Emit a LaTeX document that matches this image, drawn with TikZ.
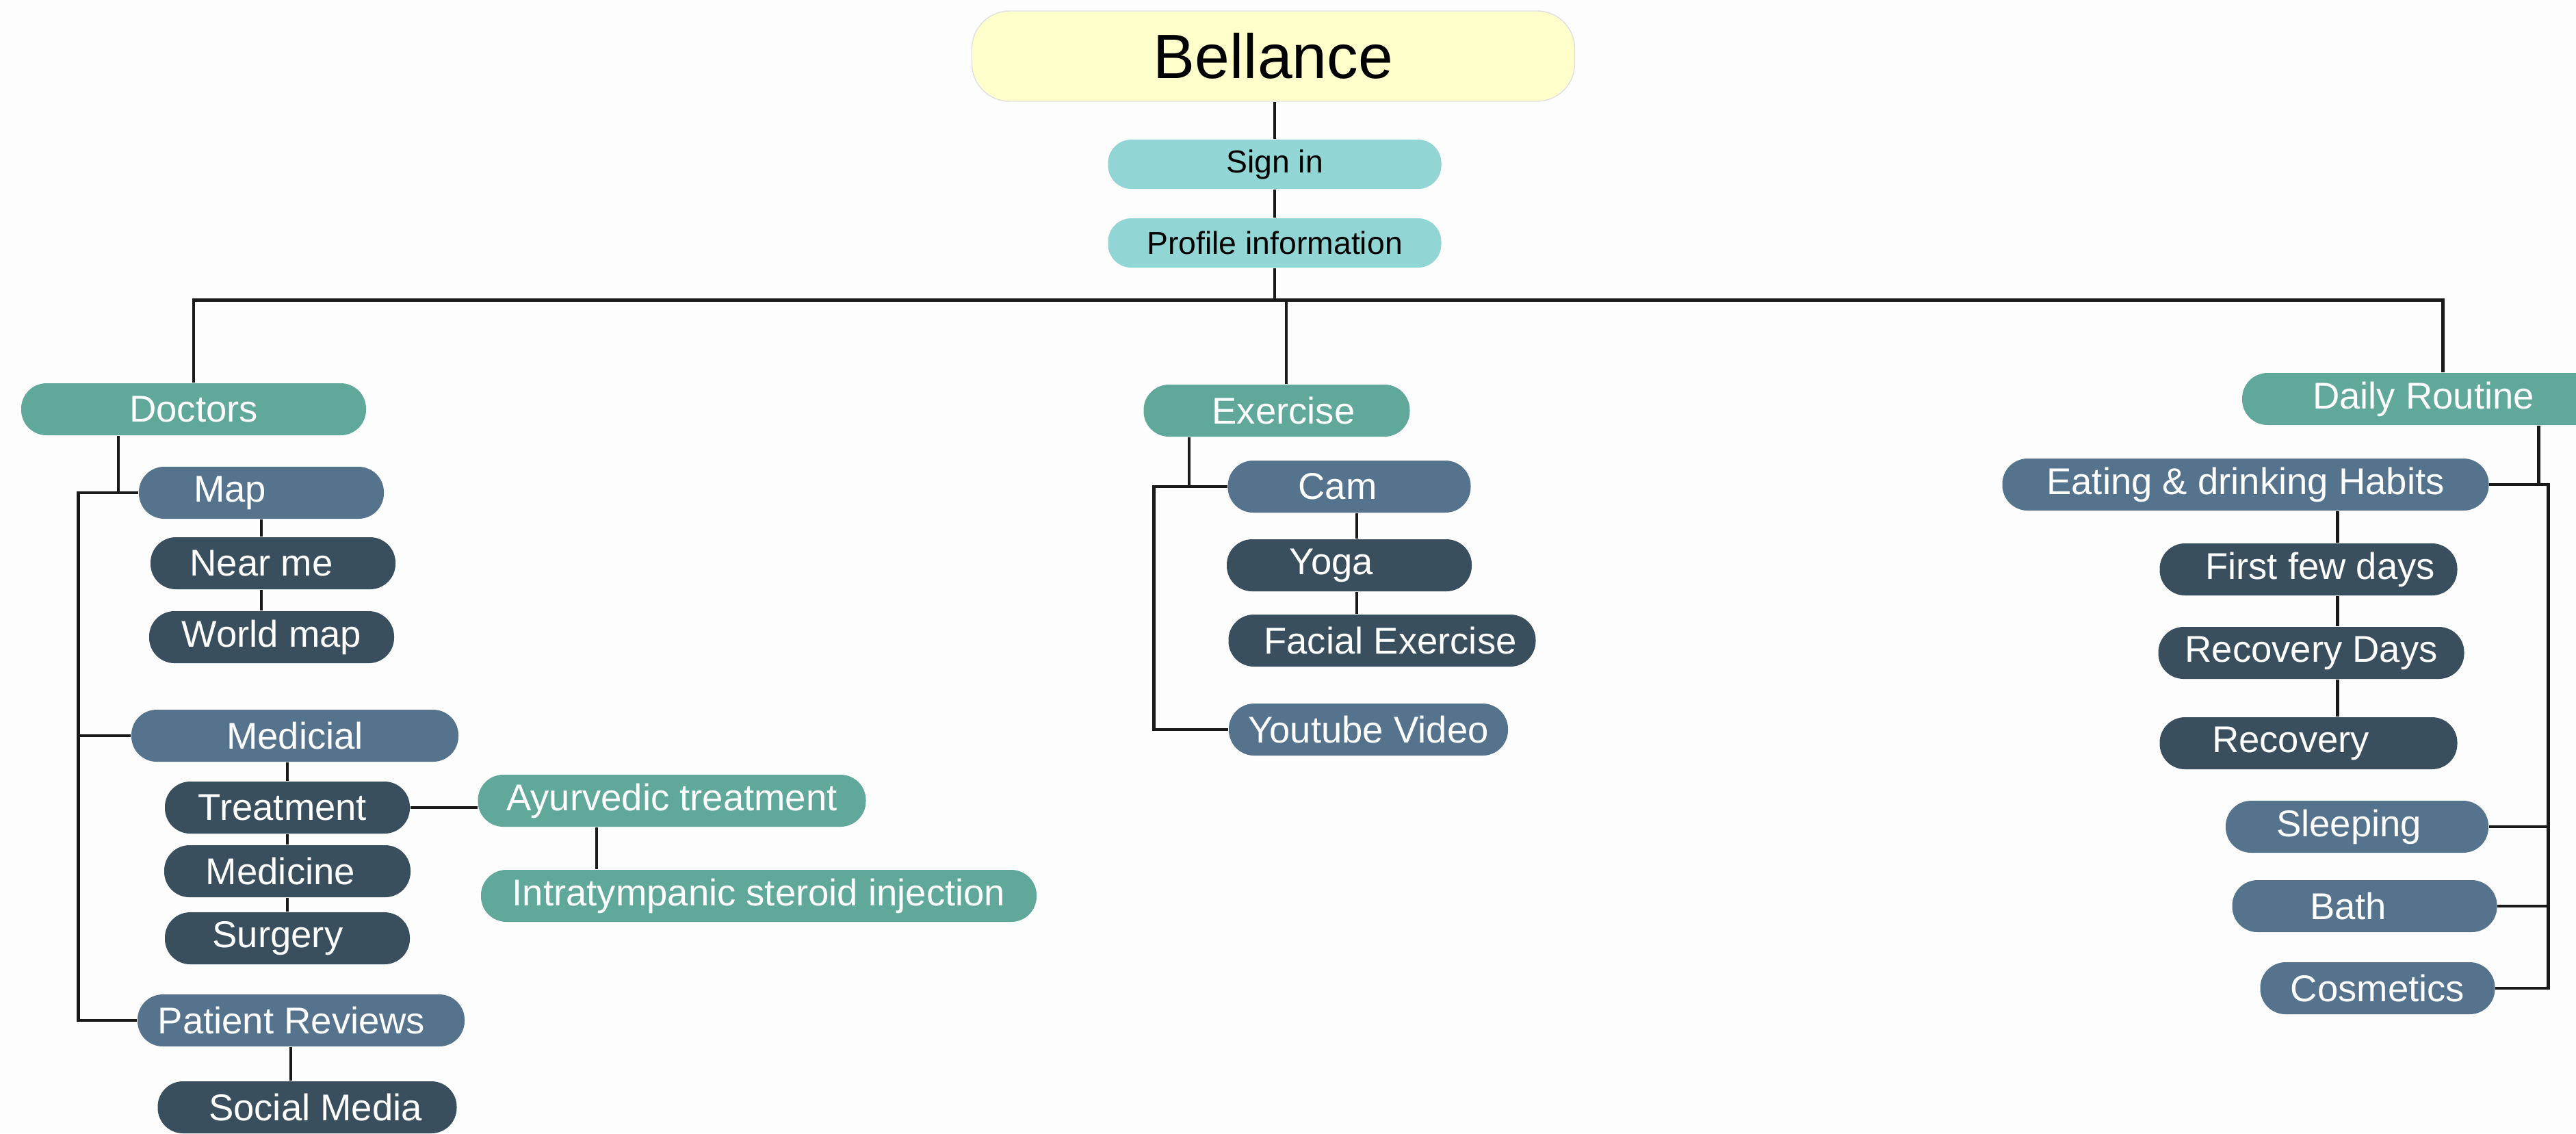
\documentclass[tikz,border=0pt]{standalone}
\usepackage{fontspec}
\setmainfont{Liberation Sans}
\definecolor{cream}{HTML}{FFFFCC}
\definecolor{aqua}{HTML}{92D5D5}
\definecolor{sea}{HTML}{60A899}
\definecolor{slate}{HTML}{56738D}
\definecolor{navy}{HTML}{3A4F5D}
\definecolor{paper}{HTML}{FDFDFD}
% text set off the middle of its pill
\newcommand{\nudge}[2]{\hspace*{#1}#2\hspace*{-#1}}

\begin{document}
\begin{tikzpicture}[
  pill/.style={rounded corners=0.37cm, minimum height=0.76cm, inner sep=0pt,
               text=white, font=\fontsize{15.5}{18}\selectfont},
  cat/.style={pill, fill=sea},
  sub/.style={pill, fill=slate},
  leaf/.style={pill, fill=navy},
  login/.style={pill, fill=aqua, text=black, rounded corners=0.34cm, minimum height=0.72cm,
                minimum width=4.87cm, font=\fontsize{13.2}{16}\selectfont},
  title/.style={rounded corners=0.55cm, minimum width=8.81cm, minimum height=1.32cm,
                fill=cream, draw=black!12, font=\fontsize{26}{30}\selectfont},
  link/.style={line width=1.4pt, draw=black!90}]
  \useasboundingbox (0,0) rectangle (37.65,-16.56);
  \fill[paper] (0,0) rectangle (37.65,-16.56);

  % top
  \node[title] (bellance) at (18.61,-0.82) {Bellance};
  \node[login] (signin)  at (18.63,-2.40) {Sign in};
  \node[login] (profile) at (18.63,-3.55) {Profile information};

  % doctors
  \node[cat,  minimum width=5.04cm] (doctors)   at (2.83,-5.98)  {Doctors};
  \node[sub,  minimum width=3.58cm] (map)       at (3.82,-7.20)  {\nudge{-0.46cm}{Map}};
  \node[leaf, minimum width=3.58cm] (nearme)    at (3.99,-8.23)  {\nudge{-0.17cm}{Near me}};
  \node[leaf, minimum width=3.58cm] (worldmap)  at (3.97,-9.31)  {World map};
  \node[sub,  minimum width=4.78cm] (medicial)  at (4.31,-10.75) {Medicial};
  \node[leaf, minimum width=3.58cm] (treatment) at (4.20,-11.80) {\nudge{-0.07cm}{Treatment}};
  \node[leaf, minimum width=3.60cm] (medicine)  at (4.20,-12.73) {\nudge{-0.1cm}{Medicine}};
  \node[leaf, minimum width=3.58cm] (surgery)   at (4.20,-13.71) {\nudge{-0.14cm}{Surgery}};
  \node[cat,  minimum width=5.67cm] (ayur)      at (9.82,-11.70) {Ayurvedic treatment};
  \node[cat,  minimum width=8.12cm] (intra)     at (11.09,-13.09) {Intratympanic steroid injection};
  \node[sub,  minimum width=4.78cm] (reviews)   at (4.40,-14.91) {\nudge{-0.14cm}{Patient Reviews}};
  \node[leaf, minimum width=4.37cm] (social)    at (4.49,-16.18) {\nudge{0.12cm}{Social Media}};

  % exercise
  \node[cat,  minimum width=3.89cm] (exercise) at (18.66,-6.00)  {\nudge{0.1cm}{Exercise}};
  \node[sub,  minimum width=3.55cm] (cam)      at (19.72,-7.11)  {\nudge{-0.17cm}{Cam}};
  \node[leaf, minimum width=3.58cm] (yoga)     at (19.72,-8.26)  {\nudge{-0.26cm}{Yoga}};
  \node[leaf, minimum width=4.49cm] (facial)   at (20.20,-9.36)  {\nudge{0.12cm}{Facial Exercise}};
  \node[sub,  minimum width=4.08cm] (youtube)  at (20.00,-10.66) {Youtube Video};

  % daily routine
  \node[cat,  minimum width=5.30cm] (daily)     at (35.42,-5.83)  {Daily Routine};
  \node[sub,  minimum width=7.11cm] (eating)    at (32.82,-7.08)  {Eating \& drinking Habits};
  \node[leaf, minimum width=4.35cm] (first)     at (33.74,-8.32)  {\nudge{0.17cm}{First few days}};
  \node[leaf, minimum width=4.47cm] (recdays)   at (33.78,-9.54)  {Recovery Days};
  \node[leaf, minimum width=4.35cm] (recovery)  at (33.74,-10.86) {\nudge{-0.26cm}{Recovery}};
  \node[sub,  minimum width=3.84cm] (sleeping)  at (34.45,-12.08) {\nudge{-0.12cm}{Sleeping}};
  \node[sub,  minimum width=3.87cm] (bath)      at (34.56,-13.24) {\nudge{-0.24cm}{Bath}};
  \node[sub,  minimum width=3.43cm] (cosmetics) at (34.75,-14.44) {Cosmetics};

  % trunk
  \draw[link] (signin) -- (signin |- bellance.south);
  \draw[link] (signin) -- (profile);
  \draw[link] (profile.south) -- ++(0,-0.47) coordinate (hub);
  \draw[link] (doctors.north) |- (hub) -| ([xshift=2.8mm]daily.north);
  \draw[link] (hub) -| ([xshift=1.4mm]exercise.north);

  % doctors links
  \draw[link] ([xshift=-1.1cm]doctors.south) |- (map.west);
  \draw[link] (map.west) -- ++(-0.88,0) coordinate (dspine) |- (medicial.west);
  \draw[link] (dspine) |- (reviews.west);
  \draw[link] (map) -- (map |- nearme.north);
  \draw[link] (map |- nearme.south) -- (map |- worldmap.north);
  \draw[link] (treatment) -- (treatment |- medicial.south);
  \draw[link] (treatment) -- (medicine);
  \draw[link] (medicine) -- (surgery);
  \draw[link] (treatment) -- (treatment -| ayur.west);
  \draw[link] (ayur.south) ++(-1.1,0) coordinate (a1) -- (a1 |- intra.north);
  \draw[link] (reviews.south) ++(-0.15,0) coordinate (r1) -- (r1 |- social.north);

  % exercise links
  \draw[link] ([xshift=-1.28cm]exercise.south) |- (cam.west);
  \draw[link] (cam.west) -- ++(-1.07,0) |- (youtube.west);
  \draw[link] (cam.south) ++(0.11,0) coordinate (c1) -- (c1 |- yoga.north);
  \draw[link] (c1 |- yoga.south) -- (c1 |- facial.north);

  % daily routine links
  \draw[link] ([xshift=1.68cm]daily.south) |- (eating.east);
  \draw[link] (eating.east) -- ++(0.865,0) coordinate (rspine) |- (cosmetics.east);
  \draw[link] (rspine) |- (sleeping.east);
  \draw[link] (rspine) |- (bath.east);
  \draw[link] (first.north) ++(0.42,0) coordinate (e1) -- (e1 |- eating.south);
  \draw[link] (e1 |- first.south) -- (e1 |- recdays.north);
  \draw[link] (e1 |- recdays.south) -- (e1 |- recovery.north);
\end{tikzpicture}
\end{document}
